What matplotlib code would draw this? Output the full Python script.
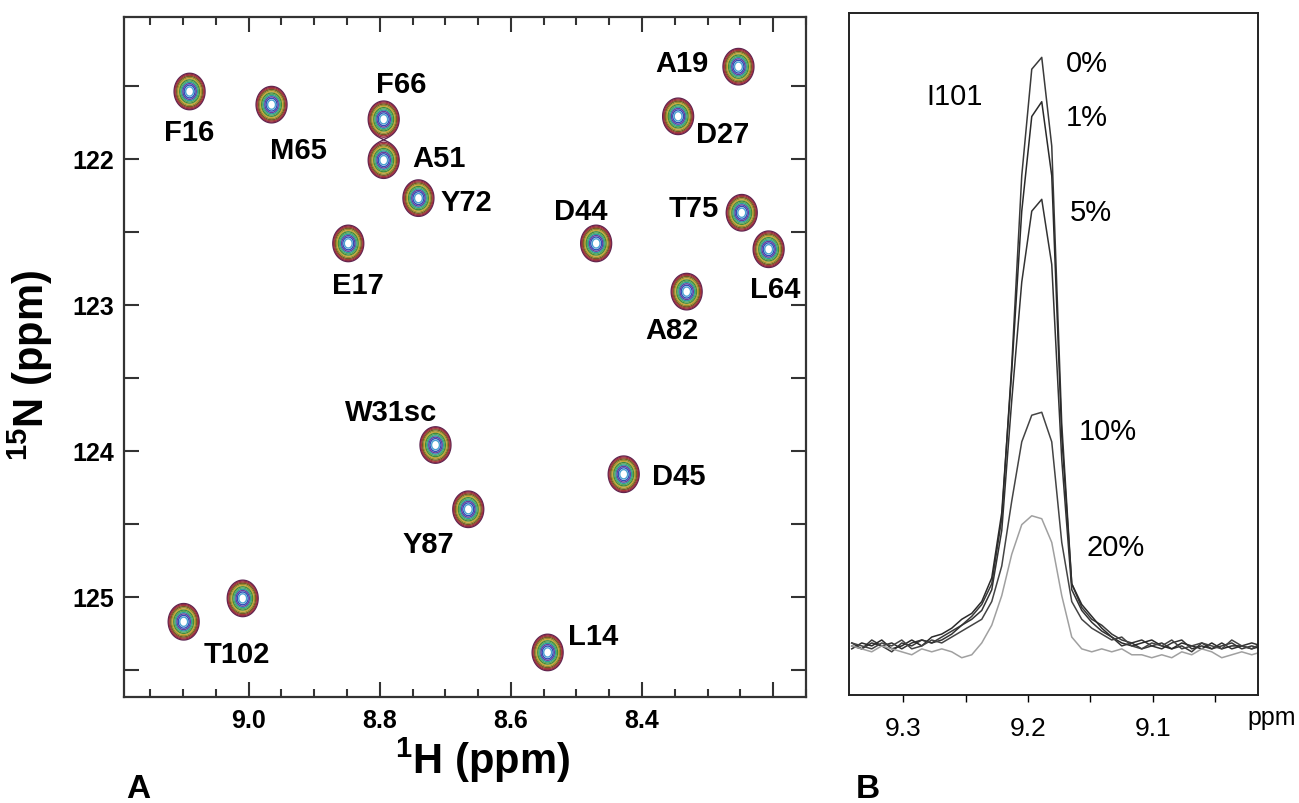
import numpy as np
import matplotlib
matplotlib.use("Agg")
import matplotlib.pyplot as plt
from matplotlib.ticker import MultipleLocator, FixedLocator, FuncFormatter

plt.rcParams['font.family'] = ['Liberation Sans', 'DejaVu Sans']
plt.rcParams['mathtext.fontset'] = 'custom'
plt.rcParams['mathtext.rm'] = 'Liberation Sans'
plt.rcParams['mathtext.bf'] = 'Liberation Sans:bold'

# --- panel A: HSQC peak list (1H ppm, 15N ppm) ---
residues = ['F16', 'M65', 'F66', 'A51', 'Y72', 'E17', 'D44', 'A19', 'D27',
            'T75', 'L64', 'A82', 'W31sc', 'D45', 'Y87', 'T102', 'L14', '']
h_ppm = [9.090, 8.965, 8.794, 8.794, 8.741, 8.848, 8.470, 8.253, 8.345,
         8.248, 8.207, 8.332, 8.715, 8.428, 8.665, 9.099, 8.544, 9.009]
n_ppm = [121.54, 121.63, 121.73, 122.01, 122.27, 122.58, 122.58, 121.37, 121.71,
         122.37, 122.62, 122.91, 123.96, 124.16, 124.40, 125.17, 125.38, 125.01]

# label offsets in pixels (dx right, dy down)
label_off = [(0, 40), (27, 45), (18, -35), (55, -2), (48, 4), (10, 42), (-15, -32),
             (-57, -4), (45, 18), (-48, -5), (7, 40), (-15, 38), (-44, -33),
             (55, 2), (-40, 35), (53, 32), (45, -16), (0, 0)]

# --- panel B: I101 1D slices at different concentrations ---
b_ppm = np.arange(9.341, 9.010, -0.008)
pct_labels = ['0%', '1%', '5%', '10%', '20%']
slice_0 = [1.0, 0.0, 1.5, 0.5, -0.5, 1.0, 0.5, 1.5, 1.0, 2.0, 3.0, 4.0, 5.5, 7.5,
           11.0, 22.0, 48.0, 80.0, 98.0, 100.0, 85.0, 38.0, 11.0, 7.0, 5.0, 4.0,
           2.5, 1.5, 1.0, 0.0, 0.5, 1.0, 0.0, 0.5, -0.5, 1.0, 0.0, 0.5, 1.0, 0.0, 0.5, 0.0]
slice_1 = [0.0, 1.0, 0.5, 1.5, 0.0, 0.5, 1.5, 0.5, 2.0, 2.5, 3.5, 5.0, 6.0, 8.0,
           12.0, 23.0, 47.0, 74.0, 90.0, 92.5, 80.0, 36.0, 11.0, 7.5, 5.5, 3.5,
           2.0, 1.0, 0.5, 1.0, 1.5, 0.5, 0.0, 1.0, 0.5, 0.0, 1.0, 0.0, 0.5, 0.5, 0.0, 0.5]
slice_5 = [0.5, 0.0, 1.0, 0.5, 1.0, 0.0, 1.0, 1.5, 1.0, 1.5, 2.5, 4.0, 5.0, 6.5,
           10.0, 20.0, 42.0, 62.0, 74.0, 76.0, 65.0, 32.0, 10.0, 6.5, 4.5, 3.0,
           2.0, 0.5, 1.0, 1.5, 0.5, 0.0, 1.0, 1.5, 0.0, 0.5, 0.0, 1.0, 0.0, 0.5, 1.0, 0.5]
slice_10 = [1.0, 0.5, 0.0, 1.0, 0.5, 1.5, 0.0, 0.5, 1.5, 1.0, 2.0, 3.0, 4.0, 5.0,
            8.0, 14.0, 25.0, 35.0, 39.5, 40.0, 35.0, 18.0, 8.0, 5.0, 3.5, 2.5,
            1.5, 2.0, 0.5, 0.0, 1.0, 0.5, 1.5, 0.0, 0.5, 1.0, 0.5, 0.0, 1.5, 0.5, 0.0, 1.0]
slice_20 = [0.5, 0.0, -0.5, 0.5, 0.0, -0.5, -1.0, 0.0, -0.5, 0.0, -0.5, -1.5, -1.0, 1.0,
            4.0, 9.0, 16.0, 21.0, 22.5, 22.0, 18.0, 9.0, 2.0, 0.0, -0.5, 0.0,
            -0.5, 0.0, -1.0, -1.0, -1.5, -1.0, -1.5, -0.5, -1.0, 0.0, -0.5, -1.5, -1.0, -0.5, -1.0, -0.5]
slices = [slice_0, slice_1, slice_5, slice_10, slice_20]
slice_colors = ['#3a3a3a', '#2a2a2a', '#333333', '#444444', '#a0a0a0']

fig = plt.figure(figsize=(12.99, 8.04), dpi=100)

# ---------------- panel A ----------------
axA = fig.add_axes([124/1299, 1-698/804, 682/1299, 680/804])
xlimA = (9.19, 8.15)
ylimA = (125.685, 121.03)
gx = np.linspace(xlimA[1], xlimA[0], 800)
gy = np.linspace(ylimA[1], ylimA[0], 800)
X, Y = np.meshgrid(gx, gy)
Z = np.zeros_like(X)
sx, sy = 0.0102, 0.054
for h, n in zip(h_ppm, n_ppm):
    Z += np.exp(-0.5*((X-h)/sx)**2 - 0.5*((Y-n)/sy)**2)
levels = [0.07, 0.09, 0.12, 0.16, 0.21, 0.27, 0.34, 0.42, 0.51, 0.61, 0.72, 0.84]
cols = ['#5a2450', '#8a2a48', '#a83838', '#6e5a28', '#9a8a2e', '#c9a83a',
        '#3e8a3e', '#5aa85a', '#2a9d9d', '#6a3d9a', '#2f4fb8', '#4aa0d0']
axA.contour(X, Y, Z, levels=levels, colors=cols, linewidths=1.0)

for name, h, n, off in zip(residues, h_ppm, n_ppm, label_off):
    if name:
        axA.annotate(name, (h, n), xytext=(off[0], -off[1]), textcoords='offset pixels',
                     ha='center', va='center', fontsize=21, fontweight='bold')

axA.set_xlim(*xlimA)
axA.set_ylim(*ylimA)
axA.xaxis.set_major_locator(FixedLocator([9.0, 8.8, 8.6, 8.4, 8.2]))
axA.xaxis.set_minor_locator(MultipleLocator(0.05))
axA.xaxis.set_major_formatter(FuncFormatter(lambda v, p: '' if abs(v-8.2) < 1e-6 else '%.1f' % v))
axA.yaxis.set_major_locator(MultipleLocator(1.0))
axA.yaxis.set_minor_locator(MultipleLocator(0.5))
axA.yaxis.set_major_formatter(FuncFormatter(lambda v, p: '%d' % round(v)))
axA.tick_params(axis='x', which='major', direction='in', length=11, width=1.5,
                top=True, bottom=True, labelsize=18, pad=8, color='#333333')
axA.tick_params(axis='x', which='minor', direction='in', length=6, width=1.5,
                top=True, bottom=True, color='#333333')
axA.tick_params(axis='y', which='both', direction='in', length=11, width=1.5,
                left=True, right=True, labelsize=18, pad=7, color='#333333')
for lab in axA.get_xticklabels() + axA.get_yticklabels():
    lab.set_fontweight('bold')
for sp in axA.spines.values():
    sp.set_linewidth(1.6)
    sp.set_color('#333333')

fig.text(482/1299, 1-760/804, r'$\mathbf{^{1}}$H (ppm)', ha='center', va='center',
         fontsize=30, fontweight='bold')
fig.text(30/1299, 1-365/804, r'$\mathbf{^{15}}$N (ppm)', ha='center', va='center',
         fontsize=30, fontweight='bold', rotation=90)
fig.text(138/1299, 1-790/804, 'A', ha='center', va='center', fontsize=24, fontweight='bold')

# ---------------- panel B ----------------
axB = fig.add_axes([849/1299, 1-696/804, 409/1299, 682/804])
for ys, c in zip(slices, slice_colors):
    axB.plot(b_ppm, ys, color=c, lw=1.1)
axB.set_xlim(9.3432, 9.016)
axB.set_ylim(-7.8, 107.5)
axB.set_yticks([])
axB.xaxis.set_major_locator(FixedLocator([9.3, 9.2, 9.1]))
axB.xaxis.set_minor_locator(MultipleLocator(0.05))
axB.xaxis.set_major_formatter(FuncFormatter(lambda v, p: '%.1f' % v))
axB.tick_params(axis='x', which='both', direction='out', length=5, width=1.0,
                labelsize=19, pad=10)
for sp in axB.spines.values():
    sp.set_linewidth(1.4)
    sp.set_color('#222222')

axB.text(9.259, 93.5, 'I101', ha='center', va='center', fontsize=21)
pct_pos = [(9.153, 99.0), (9.153, 90.0), (9.150, 73.8), (9.136, 36.8), (9.130, 17.2)]
for lab, (px, py) in zip(pct_labels, pct_pos):
    axB.text(px, py, lab, ha='center', va='center', fontsize=21)
fig.text(1272/1299, 1-718/804, 'ppm', ha='center', va='center', fontsize=18)
fig.text(868/1299, 1-790/804, 'B', ha='center', va='center', fontsize=24, fontweight='bold')

fig.savefig('out.png', dpi=100)
